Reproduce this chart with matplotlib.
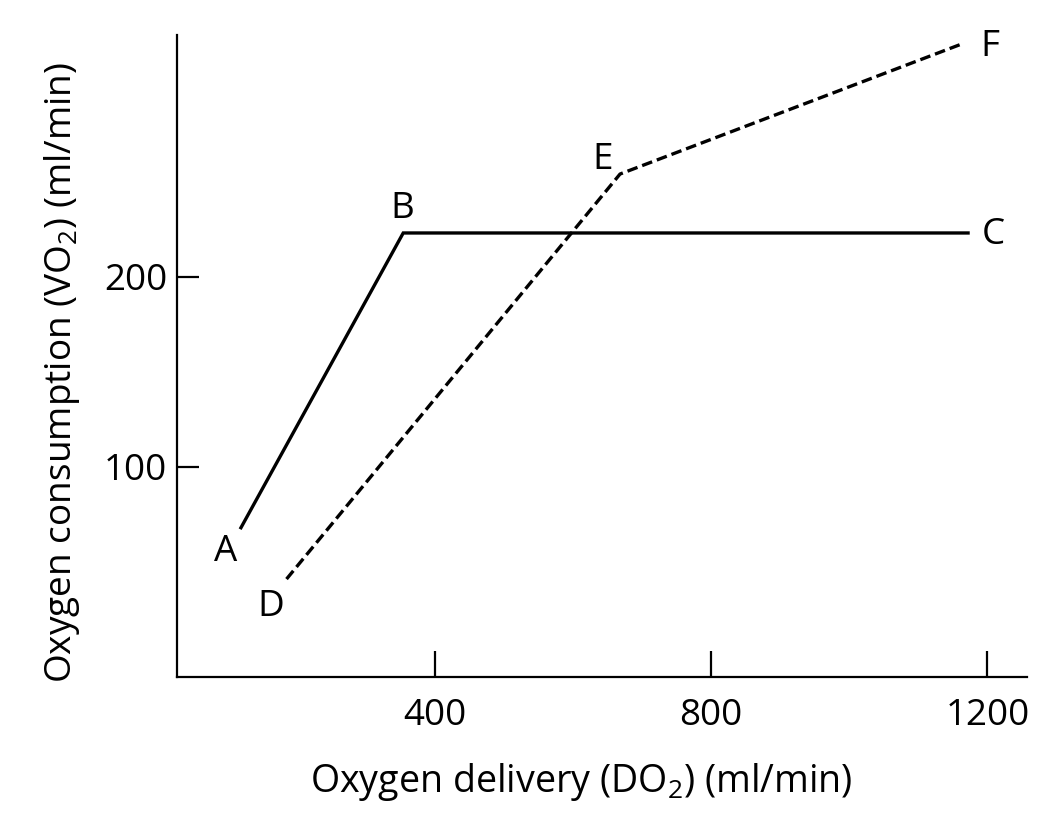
import matplotlib
matplotlib.use("Agg")
import matplotlib.pyplot as plt

plt.rcParams['font.family'] = ['Open Sans', 'DejaVu Sans']
plt.rcParams['mathtext.default'] = 'regular'

# Data
solid_x = [119, 354, 1172]          # A, B, C
solid_y = [68, 223, 223]
solid_labels = ['A', 'B', 'C']
dashed_x = [185, 668, 1160]         # D, E, F
dashed_y = [41, 254, 322]
dashed_labels = ['D', 'E', 'F']
xticks = [400, 800, 1200]
yticks = [100, 200]

fig = plt.figure(figsize=(10.52, 8.19), dpi=100)
ax = fig.add_axes([0.168, 0.1734, 0.808, 0.7836])

ax.plot(solid_x, solid_y, color='black', lw=2.4, solid_joinstyle='miter')
ax.plot(dashed_x, dashed_y, color='black', lw=2.4, dashes=(3.2, 1.5))

fs = 26.5
# label offsets (in points) for each point
sol_off = [(-11.3, -14.2), (-0.9, 20.4), (18.5, 2.0)]
das_off = [(-11.3, -17.1), (-12.6, 13.3), (21.6, 1.8)]
for x, y, t, o in zip(solid_x, solid_y, solid_labels, sol_off):
    ax.annotate(t, (x, y), xytext=o, textcoords='offset points',
                ha='center', va='center_baseline', fontsize=fs)
for x, y, t, o in zip(dashed_x, dashed_y, dashed_labels, das_off):
    ax.annotate(t, (x, y), xytext=o, textcoords='offset points',
                ha='center', va='center_baseline', fontsize=fs)

ax.set_xlim(26, 1257)
ax.set_ylim(-10.5, 327)
ax.set_xticks(xticks)
ax.set_yticks(yticks)
ax.spines['top'].set_visible(False)
ax.spines['right'].set_visible(False)
for s in ['left', 'bottom']:
    ax.spines[s].set_linewidth(1.6)
ax.tick_params(axis='x', direction='in', length=19, width=1.6, pad=15, labelsize=fs)
ax.tick_params(axis='y', direction='in', length=16, width=1.6, pad=7, labelsize=fs)

xl = ax.set_xlabel('Oxygen delivery (DO$_2$) (ml/min)', fontsize=fs)
yl = ax.set_ylabel('Oxygen consumption (VO$_2$) (ml/min)', fontsize=fs)
ax.xaxis.set_label_coords(0.4755, -0.179)
xl.set_verticalalignment('baseline')
ax.yaxis.set_label_coords(-0.1243, 0.4747)
yl.set_rotation_mode('anchor')
yl.set_horizontalalignment('center')
yl.set_verticalalignment('baseline')

# fit axis-label sizes to the reference lengths
fig.canvas.draw()
r = fig.canvas.get_renderer()
for lab, target, horiz in [(xl, 542, True), (yl, 621, False)]:
    bb = lab.get_window_extent(r)
    size = bb.width if horiz else bb.height
    lab.set_fontsize(lab.get_fontsize() * target / size)

fig.savefig('out.png', dpi=100)
